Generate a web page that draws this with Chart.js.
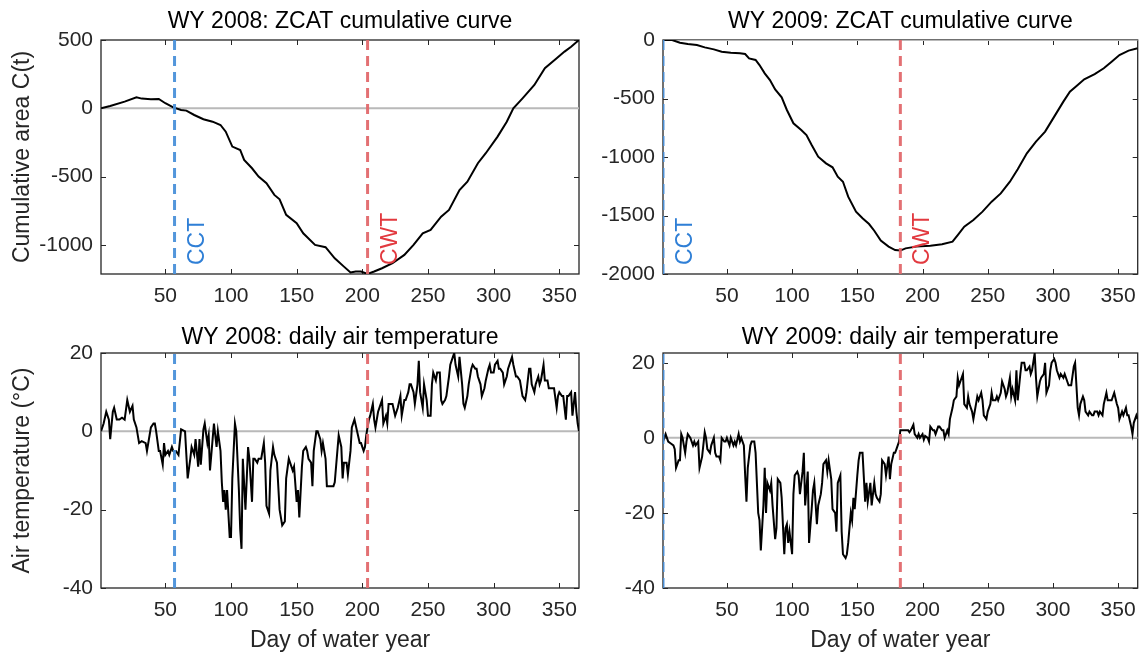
<!DOCTYPE html>
<html>
<head>
<meta charset="utf-8">
<script src="https://cdn.jsdelivr.net/npm/chart.js@4.4.1/dist/chart.umd.min.js"></script>
<style>
  body { margin: 0; background: #fff; }
  #wrap { position: relative; width: 1146px; height: 655px; }
  #wrap canvas { position: absolute; left: 0; top: 0; }
</style>
</head>
<body>
<div id="wrap">
  <canvas id="c1" width="1146" height="655"></canvas>
  <canvas id="c2" width="1146" height="655"></canvas>
  <canvas id="c3" width="1146" height="655"></canvas>
  <canvas id="c4" width="1146" height="655"></canvas>
</div>
<script>
// Ticks and markers
const xTicks = [50, 100, 150, 200, 250, 300, 350];
const cct08 = 57, cwt08 = 204;
const cct09 = 1, cwt09 = 183;

// WY 2008 cumulative curve C(t)
const cumDays08 = [1, 8, 19, 28, 32, 39, 45, 50, 56, 62, 66, 72, 79, 86, 92, 96, 101, 107, 110, 116, 121, 127, 133, 137, 142, 150, 155, 164, 172, 179, 186, 191, 195, 199, 204, 209, 215, 223, 232, 239, 246, 252, 260, 266, 274, 280, 288, 294, 303, 310, 315, 322, 331, 339, 348, 354, 359, 365];
const cum08 = [0, 17, 49, 80, 71, 66, 68, 37, 7, -12, -17, -49, -80, -98, -122, -171, -280, -305, -378, -439, -500, -549, -634, -666, -780, -841, -915, -1000, -1017, -1098, -1159, -1202, -1195, -1195, -1212, -1195, -1171, -1134, -1073, -1000, -915, -890, -793, -744, -598, -537, -402, -329, -207, -98, 0, 73, 171, 293, 366, 415, 451, 500];

// WY 2009 cumulative curve C(t)
const cumDays09 = [1, 8, 14, 20, 27, 33, 40, 46, 53, 60, 64, 67, 72, 75, 79, 83, 87, 92, 96, 101, 107, 111, 115, 120, 126, 131, 135, 139, 143, 149, 154, 159, 163, 168, 174, 179, 183, 187, 195, 206, 215, 223, 227, 232, 239, 246, 253, 260, 267, 273, 280, 287, 294, 301, 308, 313, 319, 324, 332, 339, 345, 351, 358, 365];
const cum09 = [0, 0, -23, -34, -43, -63, -80, -100, -108, -114, -120, -157, -171, -214, -285, -342, -422, -490, -598, -712, -769, -812, -897, -997, -1054, -1088, -1168, -1211, -1339, -1467, -1524, -1573, -1630, -1715, -1766, -1795, -1800, -1781, -1766, -1758, -1746, -1724, -1667, -1595, -1538, -1467, -1382, -1311, -1211, -1105, -969, -869, -783, -655, -527, -442, -385, -336, -291, -242, -185, -128, -91, -71];

// WY 2008 daily air temperature (°C)
const days08 = [1, 3, 5, 7, 8, 10, 11, 13, 15, 17, 19, 21, 23, 25, 26, 28, 30, 32, 35, 36, 38, 39, 41, 42, 43, 45, 46, 48, 49, 50, 52, 53, 55, 56, 58, 60, 62, 65, 67, 69, 70, 72, 73, 75, 76, 77, 79, 80, 82, 83, 84, 86, 87, 89, 90, 92, 93, 94, 95, 96, 97, 99, 100, 101, 103, 104, 106, 107, 108, 109, 111, 113, 114, 116, 117, 118, 120, 121, 123, 125, 126, 127, 129, 130, 132, 133, 135, 137, 139, 141, 142, 144, 145, 147, 148, 150, 151, 152, 154, 155, 157, 158, 159, 161, 162, 163, 165, 166, 168, 169, 170, 172, 173, 175, 178, 179, 181, 182, 184, 185, 186, 188, 189, 191, 192, 194, 196, 198, 199, 201, 202, 203, 205, 206, 208, 209, 210, 212, 213, 215, 216, 218, 219, 220, 222, 223, 225, 226, 227, 229, 230, 232, 233, 235, 236, 237, 239, 240, 242, 243, 244, 246, 247, 249, 250, 252, 253, 254, 256, 257, 259, 260, 261, 263, 264, 266, 267, 269, 270, 271, 273, 274, 276, 277, 278, 280, 281, 283, 284, 286, 287, 288, 290, 291, 293, 294, 296, 297, 298, 300, 301, 303, 304, 305, 307, 308, 310, 311, 312, 314, 315, 317, 318, 320, 321, 322, 324, 325, 327, 328, 329, 331, 332, 334, 335, 336, 338, 339, 341, 342, 343, 345, 346, 348, 349, 350, 352, 353, 355, 356, 357, 359, 360, 362, 363, 364, 365];
const temp08 = [0, 2, 5, 3, -2, 5, 6, 3, 3, 3.5, 3, 8, 5, 6.5, 3, 1, -3, -2.5, -3, -5, -1, 1, 2, 2, 0, -5, -5, -8.5, -3, -6, -5, -6, -4, -5, -5, -6, 0.5, 0, -12, -7, -4, -6, -2, -9, -2, -8.5, 0.5, 2, -3, -1, -10, -2, 2, -4, 0, -5, -13, -18, -15, -20, -15, -27, -27, -12, 2, 0, -15, -25, -30, -7, -20, -4, -7, -18, -7, -7, -8, -7, -7, -3, -8, -19, -21, -10, -4, -6, -8, -20, -24, -23, -12, -7, -8, -10, -9, -18, -15, -22, -9, -5, -4, -5, -7, -8, -14, -5, 0, 0, -2, -5, -3, -7, -14, -14, -14, -13, -5, -1, -4, -12, -8, -8, -11, -5, 1, 3, 0, -3, -3, -5, -4, -1, 3, 4, 7, 3, 1, 5, 6, 8, 2, 4, 2, 7, 7, 7, 4, 5, 6, 9, 4, 8, 8, 10, 12, 12, 10, 7, 12, 18, 10, 6, 12, 8, 4, 4, 12, 15, 13, 15, 15, 8, 7, 8, 9, 14, 17, 19, 20, 17, 14, 19, 12, 7, 6, 9, 12, 16, 17, 16, 16, 14, 12, 9, 11, 13, 16, 17, 15, 15, 17, 18, 16, 16, 15, 12, 14, 16, 17, 19, 17, 14, 14, 13, 11, 9, 8, 10, 16, 16, 12, 10, 12, 14, 12, 13, 17, 13, 13, 11, 11, 11, 11, 6, 9, 10, 9, 9, 3, 9, 9, 10, 4, 10, 5, 2, 0];

// WY 2009 daily air temperature (°C)
const days09 = [1, 3, 4, 5, 7, 9, 10, 11, 13, 14, 15, 16, 18, 19, 20, 22, 24, 25, 26, 28, 29, 31, 33, 34, 35, 37, 38, 40, 41, 42, 44, 45, 46, 48, 49, 50, 52, 53, 55, 56, 57, 59, 60, 61, 63, 64, 65, 66, 68, 69, 71, 72, 74, 75, 76, 78, 79, 80, 81, 83, 84, 85, 87, 88, 89, 91, 92, 94, 95, 96, 97, 98, 100, 101, 102, 104, 105, 106, 108, 109, 110, 112, 113, 115, 116, 117, 119, 120, 122, 123, 124, 126, 127, 128, 130, 131, 133, 134, 135, 137, 138, 139, 141, 142, 143, 145, 146, 147, 148, 150, 151, 152, 154, 156, 157, 158, 160, 161, 163, 164, 165, 167, 168, 169, 171, 172, 174, 175, 176, 178, 179, 180, 182, 183, 185, 187, 189, 190, 191, 193, 194, 196, 197, 198, 200, 201, 202, 204, 205, 206, 208, 209, 210, 212, 213, 215, 216, 217, 219, 220, 221, 223, 224, 226, 227, 228, 230, 231, 232, 234, 235, 236, 238, 239, 241, 242, 243, 245, 246, 247, 249, 250, 252, 253, 254, 256, 257, 258, 260, 261, 263, 264, 265, 267, 268, 269, 271, 272, 273, 275, 276, 278, 279, 280, 282, 283, 284, 286, 287, 288, 290, 291, 293, 294, 295, 297, 298, 299, 301, 302, 303, 305, 306, 308, 309, 310, 312, 313, 314, 316, 317, 319, 320, 321, 323, 324, 325, 327, 328, 330, 331, 332, 334, 335, 336, 338, 339, 341, 342, 343, 345, 346, 347, 349, 350, 351, 353, 354, 356, 357, 358, 360, 361, 362, 364, 365];
const temp09 = [-1, 1, 0, -1, -1.5, -2, -3, -8, -6, -6, 1, 0, -4, -1, 1, 0, -2, -1, -2, -1, -8, -5, 1.5, 0, -3, -4, -2, 0, -4, -5, -5, -6, 0, -1, -1, 0, -2, 0, -2, -1, -2, 1, -1, 0, -2, -10, -17, -8, -2, -1, -1, -4, -20, -22, -30, -18, -8, -20, -12, -14, -12, -18, -27, -24, -11, -12, -16, -31, -24, -23, -28, -25, -31, -15, -10, -9, -10, -15, -9, -4, -18, -9, -28, -19, -14, -12, -23, -18, -15, -12, -7, -6, -9, -6, -11, -19, -20, -25, -12, -10, -25, -31, -32, -31, -28, -20, -22, -16, -19, -10, -6, -4, -4, -17, -12, -17, -12, -18, -12, -15, -16, -17, -15, -6, -7, -10, -5, -11, -7, -4, -4, -3, -1, 2, 2, 2, 2, 1.5, 2, 3.5, 1, 0, 1, 0, 1, -0.5, 0.5, 0, -1, 3, 2, 2, 1, 3, 3, 2, 2, 0, 2, 1, 5, 8, 10, 11, 16, 14, 16, 17, 9, 8, 11, 9, 7, 5, 9, 11, 10, 12, 10, 6, 5, 7, 9, 12, 10, 10, 11, 10, 12, 15, 13, 11, 12, 16, 11, 13, 10, 18, 10, 17, 20, 20, 18, 18, 19, 17, 18, 22.5, 16, 11, 15, 16, 17, 20, 12, 14, 18, 20, 21, 20, 18, 16, 17, 16, 17, 16, 14, 14, 14, 19, 20, 8, 6, 9, 11, 10, 7, 6, 7, 6, 6, 7, 7, 6, 7, 6, 9, 12, 10, 10, 10, 11, 12, 9, 8, 5, 7, 6, 8, 6, 6, 3, 1, 4, 6, 5];

const FONT = '"Liberation Sans", Arial, sans-serif';
const AXIS = '#262626';
const BLUE_LINE = 'rgba(74, 144, 217, 0.95)';
const RED_LINE = 'rgba(226, 104, 108, 0.95)';

function pts(xs, ys) {
    return xs.map((x, i) => ({ x: x, y: ys[i] }));
}

// Box, inward ticks and CCT / CWT labels
const framePlugin = {
    id: 'frame',
    beforeDatasetsDraw(chart) {
        const { ctx, chartArea: a, scales: { x, y } } = chart;
        ctx.save();
        ctx.strokeStyle = AXIS;
        ctx.lineWidth = 1.3;
        ctx.strokeRect(a.left, a.top, a.right - a.left, a.bottom - a.top);
        ctx.beginPath();
        x.ticks.forEach(t => {
            const px = Math.round(x.getPixelForValue(t.value)) + 0.5;
            ctx.moveTo(px, a.bottom); ctx.lineTo(px, a.bottom - 5);
            ctx.moveTo(px, a.top); ctx.lineTo(px, a.top + 5);
        });
        y.ticks.forEach(t => {
            const py = Math.round(y.getPixelForValue(t.value)) + 0.5;
            ctx.moveTo(a.left, py); ctx.lineTo(a.left + 5, py);
            ctx.moveTo(a.right, py); ctx.lineTo(a.right - 5, py);
        });
        ctx.lineWidth = 1;
        ctx.stroke();
        ctx.restore();
    },
    afterDatasetsDraw(chart, args, opts) {
        if (!opts.marks) return;
        const { ctx, chartArea: a, scales: { x } } = chart;
        ctx.save();
        ctx.font = '23px ' + FONT;
        ctx.textAlign = 'left';
        ctx.textBaseline = 'alphabetic';
        opts.marks.forEach(m => {
            ctx.save();
            ctx.translate(x.getPixelForValue(m.day) + 29, a.bottom - 9);
            ctx.rotate(-Math.PI / 2);
            ctx.fillStyle = m.color;
            ctx.fillText(m.text, 0, 0);
            ctx.restore();
        });
        ctx.restore();
    }
};

function makePanel(id, p) {
    const b = p.box;
    const yWidth = p.yTitle ? b.left : 83;
    const xHeight = p.xTitle ? 67 : 40;
    const titleH = 27.6 + p.titleGap;

    new Chart(document.getElementById(id), {
        type: 'line',
        data: {
            datasets: [
                { data: [{ x: p.cct, y: p.yMin }, { x: p.cct, y: p.yMax }], borderColor: BLUE_LINE, borderWidth: 3, borderDash: [10, 6], order: 0 },
                { data: [{ x: p.cwt, y: p.yMin }, { x: p.cwt, y: p.yMax }], borderColor: RED_LINE, borderWidth: 3, borderDash: [10, 6], order: 0 },
                { data: pts(p.days, p.values), borderColor: '#000', borderWidth: 2, order: 1 },
                { data: [{ x: 1, y: 0 }, { x: 365, y: 0 }], borderColor: '#b9b9b9', borderWidth: 2, order: 2 }
            ]
        },
        options: {
            responsive: false,
            animation: false,
            events: [],
            elements: { point: { radius: 0 }, line: { tension: 0 } },
            layout: {
                padding: {
                    left: b.left - yWidth,
                    right: 1146 - b.right,
                    top: b.top - titleH,
                    bottom: 655 - b.bottom - xHeight
                }
            },
            plugins: {
                legend: { display: false },
                tooltip: { enabled: false },
                title: {
                    display: true,
                    fullSize: false,
                    text: p.title,
                    color: '#000',
                    font: { family: FONT, size: 23, weight: 'normal' },
                    padding: { top: 0, bottom: p.titleGap }
                },
                frame: { marks: p.marks }
            },
            scales: {
                x: {
                    type: 'linear',
                    min: 1,
                    max: 365,
                    grid: { display: false, drawTicks: false },
                    border: { display: false },
                    afterBuildTicks: s => { s.ticks = xTicks.map(v => ({ value: v })); },
                    afterFit: s => { s.height = xHeight; },
                    ticks: {
                        autoSkip: false, maxRotation: 0, minRotation: 0, padding: 10,
                        color: AXIS, font: { family: FONT, size: 21 },
                        callback: v => String(v)
                    },
                    title: {
                        display: !!p.xTitle,
                        text: p.xTitle || '',
                        color: AXIS,
                        font: { family: FONT, size: 23 },
                        padding: { top: 0, bottom: 1 }
                    }
                },
                y: {
                    type: 'linear',
                    min: p.yMin,
                    max: p.yMax,
                    grid: { display: false, drawTicks: false },
                    border: { display: false },
                    afterBuildTicks: s => { s.ticks = p.yTicks.map(v => ({ value: v })); },
                    afterFit: s => { s.width = yWidth; },
                    ticks: {
                        autoSkip: false, padding: 8,
                        color: AXIS, font: { family: FONT, size: 21 },
                        callback: v => String(v)
                    },
                    title: {
                        display: !!p.yTitle,
                        text: p.yTitle || '',
                        color: AXIS,
                        font: { family: FONT, size: 23 },
                        padding: { top: 9, bottom: 0 }
                    }
                }
            }
        },
        plugins: [framePlugin]
    });
}

makePanel('c1', {
    title: 'WY 2008: ZCAT cumulative curve',
    days: cumDays08, values: cum08,
    yMin: -1213, yMax: 500, yTicks: [-1000, -500, 0, 500],
    cct: cct08, cwt: cwt08,
    yTitle: 'Cumulative area C(t)',
    box: { left: 101, top: 40, right: 579, bottom: 274 }, titleGap: 5,
    marks: [{ day: cct08, text: 'CCT', color: '#2f7fd6' }, { day: cwt08, text: 'CWT', color: '#e2393f' }]
});

makePanel('c2', {
    title: 'WY 2009: ZCAT cumulative curve',
    days: cumDays09, values: cum09,
    yMin: -2000, yMax: 0, yTicks: [-2000, -1500, -1000, -500, 0],
    cct: cct09, cwt: cwt09,
    box: { left: 663, top: 40, right: 1141, bottom: 274 }, titleGap: 5,
    marks: [{ day: cct09, text: 'CCT', color: '#2f7fd6' }, { day: cwt09, text: 'CWT', color: '#e2393f' }]
});

makePanel('c3', {
    title: 'WY 2008: daily air temperature',
    days: days08, values: temp08,
    yMin: -40, yMax: 20, yTicks: [-40, -20, 0, 20],
    cct: cct08, cwt: cwt08,
    yTitle: 'Air temperature (°C)', xTitle: 'Day of water year',
    box: { left: 101, top: 353, right: 579, bottom: 588 }, titleGap: 2,
});

makePanel('c4', {
    title: 'WY 2009: daily air temperature',
    days: days09, values: temp09,
    yMin: -40, yMax: 22.6, yTicks: [-40, -20, 0, 20],
    cct: cct09, cwt: cwt09,
    xTitle: 'Day of water year',
    box: { left: 663, top: 353, right: 1141, bottom: 588 }, titleGap: 2
});
</script>
</body>
</html>
